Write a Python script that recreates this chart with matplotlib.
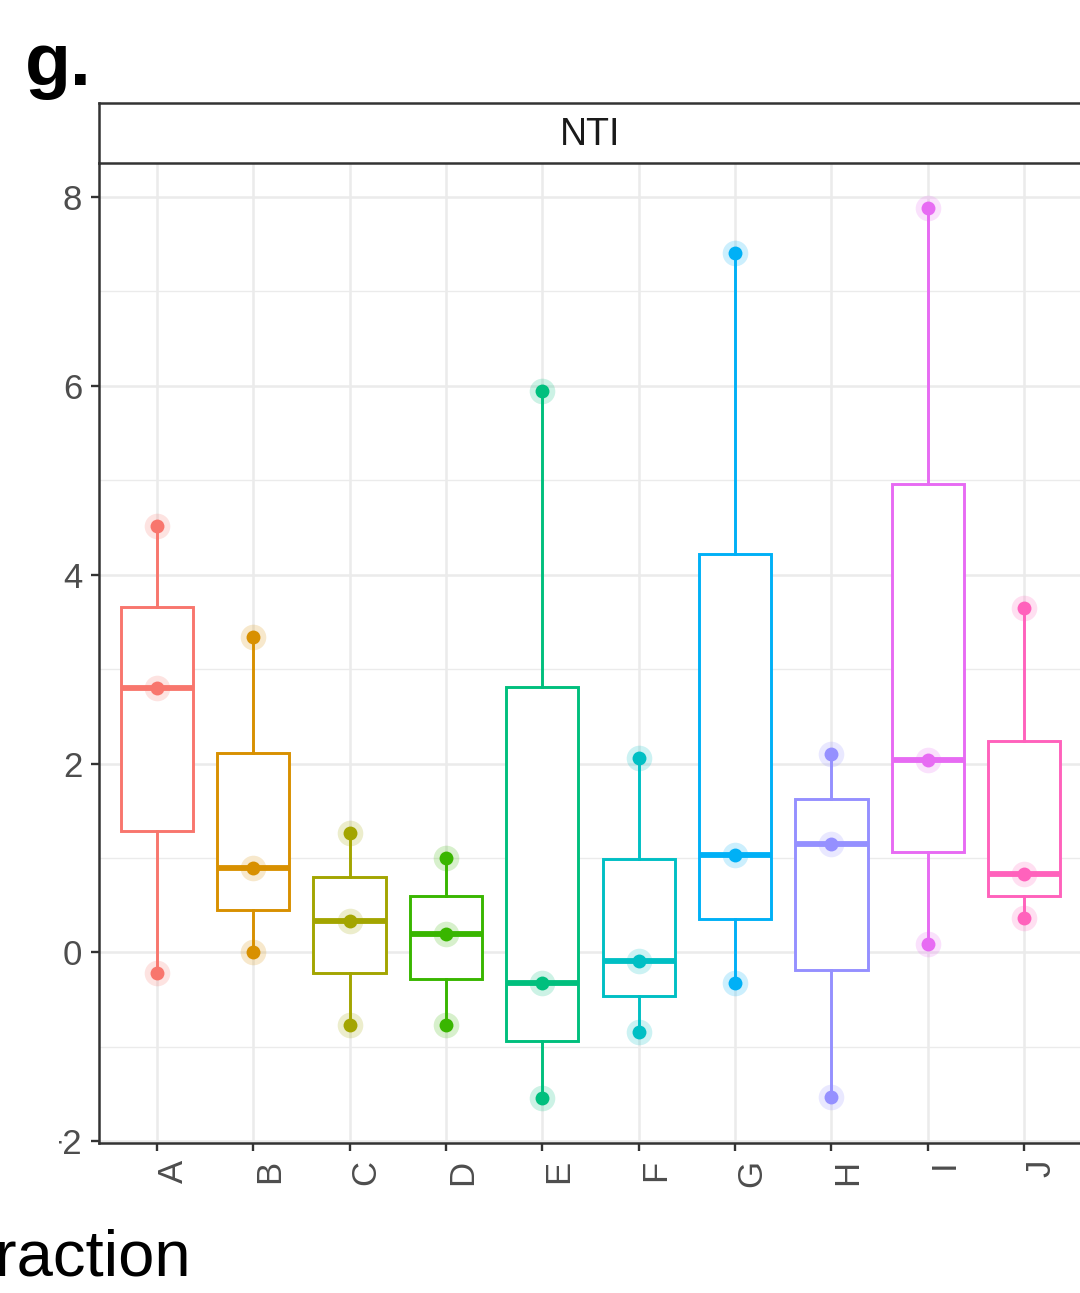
import numpy as np
import matplotlib
matplotlib.use("Agg")
import matplotlib.pyplot as plt
from matplotlib.patches import Rectangle

plt.rcParams['font.family'] = ['Liberation Sans', 'DejaVu Sans']

# NTI values per group (three samples each)
groups = ["A", "B", "C", "D", "E", "F", "G", "H", "I", "J"]
vals_A = [-0.22, 2.80, 4.51]
vals_B = [0.01, 0.89, 3.34]
vals_C = [-0.77, 0.33, 1.26]
vals_D = [-0.77, 0.20, 1.00]
vals_E = [-1.545, -0.32, 5.94]
vals_F = [-0.84, -0.09, 2.06]
vals_G = [-0.32, 1.03, 7.40]
vals_H = [-1.53, 1.15, 2.10]
vals_I = [0.095, 2.035, 7.885]
vals_J = [0.37, 0.83, 3.65]
values = [vals_A, vals_B, vals_C, vals_D, vals_E, vals_F, vals_G, vals_H, vals_I, vals_J]

colors = ["#F8766D", "#D89000", "#A3A500", "#39B600", "#00BF7D",
          "#00BFC4", "#00B0F6", "#9590FF", "#E76BF3", "#FF62BC"]
y_ticks = [-2, 0, 2, 4, 6, 8]
y_minor = [-1, 1, 3, 5, 7]
strip_title = "NTI"
x_title = "Fraction"
panel_tag = "g."

W, H = 1080, 1293
fig = plt.figure(figsize=(W / 100, H / 100), dpi=100)

def fx(px):
    return px / W

def fy(py):
    return 1 - py / H

# main panel
left_px, right_px = 99, 1082
top_px, bottom_px = 163, 1143
ax = fig.add_axes([fx(left_px), fy(bottom_px), fx(right_px - left_px), (bottom_px - top_px) / H])
ax.set_facecolor("white")

positions = np.arange(1, len(groups) + 1)
for pos, v, c in zip(positions, values, colors):
    ax.boxplot([v], positions=[pos], widths=0.75, whis=1.5, showfliers=False,
               showcaps=False, patch_artist=True, manage_ticks=False,
               boxprops=dict(facecolor="white", edgecolor=c, linewidth=2.1),
               whiskerprops=dict(color=c, linewidth=2.1),
               medianprops=dict(color=c, linewidth=4.2, solid_capstyle="butt"),
               zorder=3)
    xs = np.full(len(v), pos)
    ax.scatter(xs, v, s=340, color=c, alpha=0.2, linewidths=0, zorder=4)
    ax.scatter(xs, v, s=100, color=c, linewidths=0, zorder=5)

all_vals = np.concatenate([np.asarray(v) for v in values])
lo, hi = all_vals.min(), all_vals.max()
pad = 0.05 * (hi - lo)
ax.set_ylim(lo - pad, hi + pad)
ax.set_xlim(0.4, len(groups) + 0.6)

ax.set_yticks(y_ticks)
ax.set_yticks(y_minor, minor=True)
ax.set_xticks(positions)
ax.set_xticklabels(groups, rotation=90, ha="left", va="top")
ax.tick_params(axis="both", which="major", length=6, width=1.7, color="#333333",
               labelsize=25, labelcolor="#4D4D4D")
ax.tick_params(axis="x", pad=6)
ax.tick_params(axis="y", pad=6)
ax.tick_params(axis="y", which="minor", length=0)

ax.grid(True, which="major", color="#EBEBEB", linewidth=1.8, zorder=0)
ax.grid(True, which="minor", axis="y", color="#EBEBEB", linewidth=1.0, zorder=0)
ax.set_axisbelow(True)

for side in ["left", "bottom", "right"]:
    ax.spines[side].set_color("#333333")
    ax.spines[side].set_linewidth(1.8)
ax.spines["top"].set_visible(False)

# facet strip
sax = fig.add_axes([fx(left_px), fy(top_px), fx(right_px - left_px), (top_px - 103) / H])
sax.set_facecolor("white")
sax.set_xticks([])
sax.set_yticks([])
for sp in sax.spines.values():
    sp.set_color("#333333")
    sp.set_linewidth(1.8)
sax.text(0.5, 0.47, strip_title, ha="center", va="center", fontsize=27,
         color="#1A1A1A", transform=sax.transAxes)

# the neighbouring panel's background masks the far-left margin
fig.patches.append(Rectangle((0, fy(1175)), fx(59), fy(180) - fy(1175),
                             transform=fig.transFigure, facecolor="white",
                             edgecolor="none", zorder=10))

# panel tag and shared axis title
fig.text(fx(25), fy(85), panel_tag, fontsize=54, fontweight="bold",
         ha="left", va="baseline", color="black")
fig.text(fx(191), fy(1276), x_title, fontsize=47, ha="right", va="baseline",
         color="black")

fig.savefig("out.png", dpi=100, facecolor="white")
